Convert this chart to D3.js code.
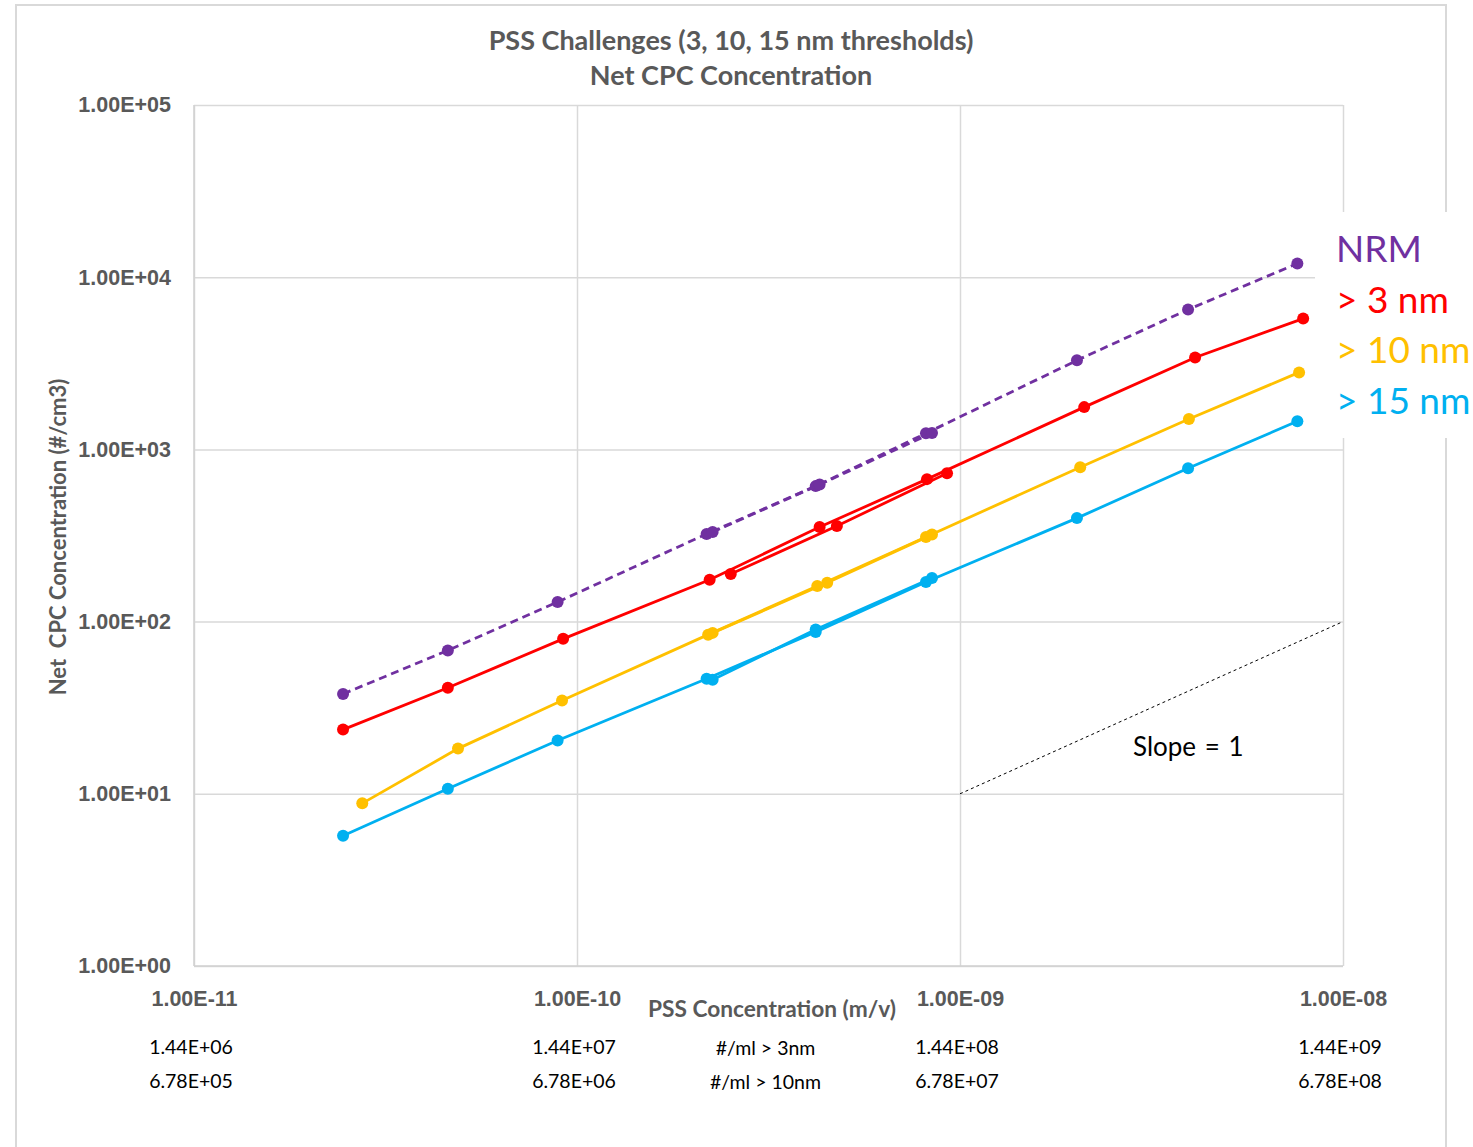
<!DOCTYPE html>
<html>
<head>
<meta charset="utf-8">
<script src="https://cdn.jsdelivr.net/npm/d3@7"></script>
<style>
  html, body { margin: 0; padding: 0; background: #fff; }
  svg { display: block; font-family: Lato, "Open Sans", "DejaVu Sans", sans-serif; }
  .grid line { stroke: #d9d9d9; stroke-width: 1.5; }
  .grid path { display: none; }
  .ticklbl text { fill: #595959; font-weight: bold; font-size: 21.5px; }
  .ticklbl path, .ticklbl line { display: none; }
</style>
</head>
<body>
<svg id="chart" width="1473" height="1147"></svg>
<script>
// PSS concentration (m/v) and net CPC concentration (#/cm3) per detector threshold
const nrmX   = [2.45e-11, 4.6e-11, 8.9e-11, 2.18e-10, 4.2e-10, 8.15e-10, 2.02e-9, 3.94e-9, 7.6e-9];
const nrmY   = [38, 68, 130, 323, 612, 1240, 3290, 6490, 12000];
const nrmRepX = [2.26e-10, 4.3e-10, 8.45e-10];
const nrmRepY = [331, 625, 1245];

const nm3X   = [2.45e-11, 4.6e-11, 9.2e-11, 2.22e-10, 4.3e-10, 8.2e-10, 2.11e-9, 4.11e-9, 7.87e-9];
const nm3Y   = [23.6, 41.3, 79.4, 175, 354, 672, 1760, 3420, 5750];
const nm3RepX = [2.52e-10, 4.77e-10, 9.25e-10];
const nm3RepY = [189, 359, 728];

const nm10X  = [2.75e-11, 4.89e-11, 9.14e-11, 2.2e-10, 4.24e-10, 8.15e-10, 2.06e-9, 3.96e-9, 7.68e-9];
const nm10Y  = [8.8, 18.3, 34.8, 84, 161, 310, 788, 1500, 2800];
const nm10RepX = [2.26e-10, 4.5e-10, 8.45e-10];
const nm10RepY = [86, 168, 320];

const nm15X  = [2.45e-11, 4.6e-11, 8.9e-11, 2.18e-10, 4.2e-10, 8.15e-10, 2.02e-9, 3.94e-9, 7.6e-9];
const nm15Y  = [5.7, 10.7, 20.4, 46.6, 87, 170, 399, 778, 1456];
const nm15RepX = [2.26e-10, 4.2e-10, 8.45e-10];
const nm15RepY = [46, 90, 179];

const seriesNames  = ["NRM", "> 3 nm", "> 10 nm", "> 15 nm"];
const seriesColors = ["#7030A0", "#FF0000", "#FFC000", "#00B0F0"];

const xTicks = [1e-11, 1e-10, 1e-9, 1e-8];
const yTicks = [1, 10, 100, 1000, 10000, 100000];
// particle counts per ml matching each PSS concentration tick
const count3nm  = ["1.44E+06", "1.44E+07", "1.44E+08", "1.44E+09"];
const count10nm = ["6.78E+05", "6.78E+06", "6.78E+07", "6.78E+08"];
const countLabels = ["#/ml > 3nm", "#/ml > 10nm"];

// reference line of slope 1 on log-log axes
const slopeX = [1e-9, 1e-8];
const slopeY = [10, 100];

const titleLines = ["PSS Challenges (3, 10, 15 nm thresholds)", "Net CPC Concentration"];

const svg = d3.select("#chart");
const W = 1473, H = 1147;
const plot = { left: 194, right: 1343, top: 105, bottom: 966 };

const x = d3.scaleLog().domain([1e-11, 1e-8]).range([plot.left, plot.right]);
const y = d3.scaleLog().domain([1, 1e5]).range([plot.bottom, plot.top]);

const sci = d => {
  const e = Math.floor(Math.log10(d) + 1e-9);
  const m = d / Math.pow(10, e);
  const sign = e < 0 ? "-" : "+";
  return m.toFixed(2) + "E" + sign + String(Math.abs(e)).padStart(2, "0");
};

// outer chart frame
svg.append("rect")
  .attr("x", 16).attr("y", 5).attr("width", 1430).attr("height", H + 10)
  .attr("fill", "#fff").attr("stroke", "#d9d9d9").attr("stroke-width", 2);

// gridlines
svg.append("g").attr("class", "grid")
  .attr("transform", `translate(0,${plot.bottom})`)
  .call(d3.axisBottom(x).tickValues(xTicks).tickSize(-(plot.bottom - plot.top)).tickFormat(""));
svg.append("g").attr("class", "grid")
  .attr("transform", `translate(${plot.left},0)`)
  .call(d3.axisLeft(y).tickValues(yTicks).tickSize(-(plot.right - plot.left)).tickFormat(""));

// axis lines
svg.append("line").attr("x1", plot.left).attr("x2", plot.left).attr("y1", plot.top).attr("y2", plot.bottom)
  .attr("stroke", "#d0d0d0").attr("stroke-width", 1.5);
svg.append("line").attr("x1", plot.left).attr("x2", plot.right).attr("y1", plot.bottom).attr("y2", plot.bottom)
  .attr("stroke", "#d0d0d0").attr("stroke-width", 1.5);

// tick labels
svg.append("g").attr("class", "ticklbl")
  .attr("transform", `translate(${plot.left - 23},0)`)
  .call(d3.axisLeft(y).tickValues(yTicks).tickSize(0).tickPadding(0).tickFormat(sci));
svg.append("g").attr("class", "ticklbl")
  .attr("transform", `translate(0,${plot.bottom + 25})`)
  .call(d3.axisBottom(x).tickValues(xTicks).tickSize(0).tickPadding(0).tickFormat(sci));

// secondary count labels under the x axis
const countG = svg.append("g").attr("font-size", 19.5).attr("fill", "#000").attr("text-anchor", "middle");
countG.selectAll(".c3").data(count3nm).join("text")
  .attr("x", (d, i) => x(xTicks[i]) - 3).attr("y", 1054).text(d => d);
countG.selectAll(".c10").data(count10nm).join("text")
  .attr("x", (d, i) => x(xTicks[i]) - 3).attr("y", 1088).text(d => d);
countG.selectAll(".cl").data(countLabels).join("text")
  .attr("x", x(Math.sqrt(1e-10 * 1e-9)) - 3).attr("y", (d, i) => 1055 + i * 34).text(d => d);

// axis titles
svg.append("text")
  .attr("x", 772).attr("y", 1017).attr("text-anchor", "middle")
  .attr("font-size", 22.7).attr("font-weight", "bold").attr("fill", "#595959")
  .text("PSS Concentration (m/v)");
svg.append("text")
  .attr("transform", `translate(66,537) rotate(-90)`).attr("text-anchor", "middle")
  .attr("font-size", 22).attr("font-weight", "bold").attr("fill", "#595959")
  .style("white-space", "pre")
  .text("Net  CPC Concentration (#/cm3)");

// chart title
svg.append("g").selectAll("text").data(titleLines).join("text")
  .attr("x", 731).attr("y", (d, i) => 50 + i * 35).attr("text-anchor", "middle")
  .attr("font-size", 27).attr("font-weight", "bold").attr("fill", "#595959")
  .text(d => d);

// slope reference
svg.append("line")
  .attr("x1", x(slopeX[0])).attr("y1", y(slopeY[0]))
  .attr("x2", x(slopeX[1])).attr("y2", y(slopeY[1]))
  .attr("stroke", "#000").attr("stroke-width", 1).attr("stroke-dasharray", "3,3");
svg.append("text")
  .attr("x", x(2.83e-9)).attr("y", y(16.6)).attr("font-size", 26).attr("fill", "#000")
  .attr("word-spacing", 2)
  .text("Slope = 1");

// series
const series = [
  { main: [nrmX, nrmY], rep: [nrmRepX, nrmRepY], dash: "8,5" },
  { main: [nm3X, nm3Y], rep: [nm3RepX, nm3RepY], dash: null },
  { main: [nm10X, nm10Y], rep: [nm10RepX, nm10RepY], dash: null },
  { main: [nm15X, nm15Y], rep: [nm15RepX, nm15RepY], dash: null }
];
const line = d3.line().x(d => x(d[0])).y(d => y(d[1]));
const zipPts = (xs, ys) => xs.map((v, i) => [v, ys[i]]);

series.forEach((s, k) => {
  const g = svg.append("g");
  const color = seriesColors[k];
  [s.main, s.rep].forEach(([xs, ys]) => {
    const pts = zipPts(xs, ys);
    g.append("path").datum(pts)
      .attr("d", line).attr("fill", "none")
      .attr("stroke", color).attr("stroke-width", 2.8)
      .attr("stroke-dasharray", s.dash);
    g.selectAll(null).data(pts).join("circle")
      .attr("cx", d => x(d[0])).attr("cy", d => y(d[1])).attr("r", 6)
      .attr("fill", color);
  });
});

// legend
svg.append("rect").attr("x", 1315).attr("y", 212).attr("width", W - 1315).attr("height", 226).attr("fill", "#fff");
svg.append("g").selectAll("text").data(seriesNames).join("text")
  .attr("x", 1336).attr("y", (d, i) => 262 + i * 50.5)
  .attr("font-size", 37).attr("fill", (d, i) => seriesColors[i])
  .style("white-space", "pre")
  .text(d => d);
</script>
</body>
</html>
